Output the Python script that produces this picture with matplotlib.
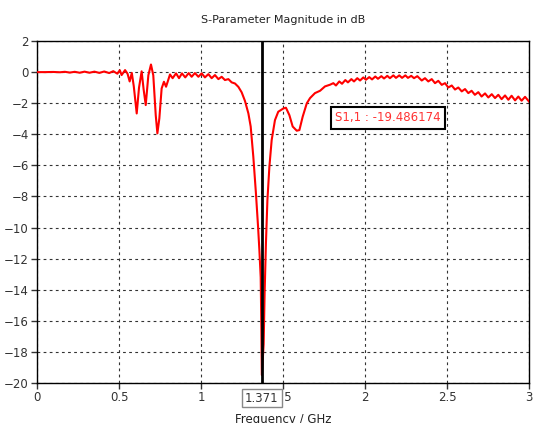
import matplotlib
matplotlib.use('Agg')
import matplotlib.pyplot as plt

# S1,1 magnitude
freq_ghz = [
    0.000, 0.050, 0.100, 0.140, 0.170, 0.200, 0.230, 0.260, 0.290, 0.320,
    0.350, 0.380, 0.410, 0.440, 0.465, 0.490, 0.505, 0.516, 0.537, 0.552,
    0.565, 0.578, 0.590, 0.608, 0.622, 0.638, 0.650, 0.663, 0.679, 0.695,
    0.709, 0.724, 0.734, 0.746, 0.760, 0.774, 0.787, 0.811, 0.827, 0.848,
    0.866, 0.884, 0.904, 0.925, 0.943, 0.963, 0.984, 1.004, 1.024, 1.045,
    1.065, 1.085, 1.106, 1.126, 1.146, 1.167, 1.187, 1.207, 1.228, 1.248,
    1.268, 1.289, 1.303, 1.319, 1.335, 1.348, 1.356, 1.364, 1.368, 1.371,
    1.382, 1.388, 1.396, 1.405, 1.417, 1.431, 1.451, 1.471, 1.502, 1.518,
    1.539, 1.559, 1.584, 1.600, 1.620, 1.645, 1.665, 1.695, 1.726, 1.756,
    1.787, 1.807, 1.823, 1.843, 1.860, 1.880, 1.896, 1.917, 1.933, 1.953,
    1.970, 1.990, 2.006, 2.026, 2.043, 2.063, 2.079, 2.100, 2.116, 2.136,
    2.152, 2.173, 2.189, 2.209, 2.226, 2.246, 2.262, 2.282, 2.299, 2.319,
    2.346, 2.366, 2.386, 2.407, 2.427, 2.447, 2.468, 2.488, 2.508, 2.529,
    2.549, 2.569, 2.590, 2.610, 2.630, 2.650, 2.670, 2.691, 2.711, 2.732,
    2.752, 2.773, 2.793, 2.813, 2.833, 2.854, 2.874, 2.894, 2.915, 2.935,
    2.955, 2.976, 3.000,
]
s11_db = [
    0.00, 0.00, 0.01, -0.01, 0.02, -0.03, 0.02, -0.04, 0.03, -0.04,
    0.03, -0.05, 0.04, -0.06, 0.06, -0.10, 0.12, -0.19, 0.13, -0.10,
    -0.60, -0.05, -0.90, -2.66, -1.00, 0.05, -1.10, -2.12, -0.20, 0.49,
    -0.20, -2.77, -3.94, -2.98, -1.05, -0.62, -0.94, -0.15, -0.39, -0.08,
    -0.39, -0.08, -0.34, -0.06, -0.30, -0.06, -0.30, -0.08, -0.34, -0.13,
    -0.39, -0.19, -0.45, -0.30, -0.51, -0.45, -0.66, -0.73, -0.95, -1.30,
    -1.85, -2.66, -3.50, -5.44, -7.80, -9.95, -11.45, -13.20, -16.40, -19.49,
    -17.50, -14.20, -11.00, -8.23, -6.09, -4.37, -3.09, -2.55, -2.34, -2.29,
    -2.77, -3.50, -3.77, -3.73, -2.87, -2.01, -1.67, -1.35, -1.20, -0.92,
    -0.81, -0.71, -0.86, -0.60, -0.75, -0.51, -0.66, -0.45, -0.60, -0.39,
    -0.54, -0.34, -0.49, -0.32, -0.47, -0.28, -0.43, -0.26, -0.41, -0.24,
    -0.39, -0.21, -0.37, -0.21, -0.37, -0.21, -0.37, -0.24, -0.39, -0.26,
    -0.54, -0.39, -0.60, -0.45, -0.71, -0.56, -0.82, -0.71, -0.99, -0.86,
    -1.12, -0.99, -1.24, -1.09, -1.35, -1.20, -1.46, -1.29, -1.57, -1.37,
    -1.63, -1.42, -1.67, -1.46, -1.74, -1.50, -1.78, -1.52, -1.82, -1.57,
    -1.84, -1.59, -1.89,
]

marker_f = 1.371
marker_text = 'S1,1 : -19.486174'

plt.rcParams['font.family'] = ['DejaVu Sans']

fig = plt.figure(figsize=(5.34, 4.23), dpi=100)
ax = fig.add_axes([0.0693, 0.0946, 0.9213, 0.8084])

ax.plot(freq_ghz, s11_db, color='#ff0000', linewidth=1.5, zorder=3)
ax.axvline(marker_f, color='black', linewidth=2, zorder=4)

ax.set_xlim(0, 3)
ax.set_ylim(-20, 2)
ax.set_xticks([0, 0.5, 1, 1.5, 2, 2.5, 3])
ax.set_xticklabels(['0', '0.5', '1', '1.5', '2', '2.5', '3'])
ax.set_yticks(range(-20, 3, 2))

ax.grid(True, color='#333333', linestyle=(0, (2.5, 3)), linewidth=0.8)
ax.tick_params(direction='out', length=4, width=1, labelsize=8.5,
               colors='#333333', pad=2)
for s in ax.spines.values():
    s.set_linewidth(1)
    s.set_color('black')

ax.set_title('S-Parameter Magnitude in dB', fontsize=8, pad=13,
             color='#222222')
ax.set_xlabel('Frequency / GHz', fontsize=8.5, labelpad=6, color='#222222')

ax.text(0.713, 0.775, marker_text, transform=ax.transAxes, color='#ff3333',
        fontsize=8.5, ha='center', va='center', zorder=5,
        bbox=dict(boxstyle='square,pad=0.35', facecolor='white',
                  edgecolor='black', linewidth=1.5))

ax.text(0.457, -0.044, '%.3f' % marker_f, transform=ax.transAxes,
        color='#333333', fontsize=8.5, ha='center', va='center', zorder=6,
        clip_on=False,
        bbox=dict(boxstyle='square,pad=0.25', facecolor='white',
                  edgecolor='#888888', linewidth=1))

fig.savefig('out.png', dpi=100)
